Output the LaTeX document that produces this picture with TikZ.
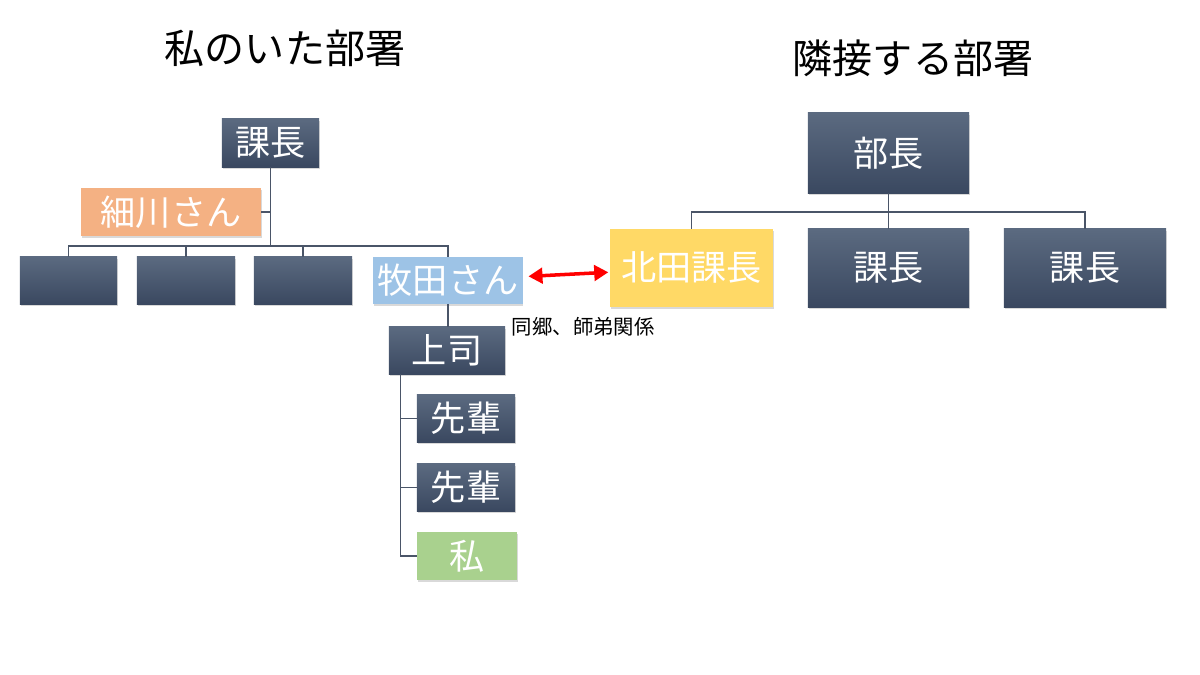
\documentclass[tikz,border=0pt]{standalone}
\usepackage{fontspec}
\setmainfont{Noto Sans CJK JP}
\usepackage{xcolor}
\usepackage{tikz}
\usetikzlibrary{calc,shadows,arrows.meta}

\definecolor{navytop}{HTML}{5B6A80}
\definecolor{navybot}{HTML}{3A4860}
\definecolor{linegray}{HTML}{4A5568}
\definecolor{peach}{HTML}{F4B183}
\definecolor{skyblue}{HTML}{9DC3E6}
\definecolor{mustard}{HTML}{FFD966}
\definecolor{leaf}{HTML}{A9D18E}

\tikzset{
	orgbox/.style={rectangle, inner sep=0pt, text=white, font=\fontsize{25}{28}\selectfont,
		drop shadow={shadow xshift=0.6pt, shadow yshift=-1.4pt, opacity=0.3}},
	navybox/.style={orgbox, top color=navytop, bottom color=navybot},
	conn/.style={draw=linegray, line width=0.8pt},
	rel/.style={draw=red, line width=2.5pt, {Triangle[length=10pt,width=11pt]}-{Triangle[length=10pt,width=11pt]}}
}

\begin{document}
\begin{tikzpicture}[x=0.025cm, y=-0.025cm]
			\useasboundingbox (0,0) rectangle (1200,675);
			\node[font=\fontsize{28.5}{32}\selectfont] (titleL) at (285,48) {私のいた部署};
			\node[font=\fontsize{28.5}{32}\selectfont] (titleR) at (913,58) {隣接する部署};

			\node[navybox, minimum width=2.425cm, minimum height=1.2cm] (kacho) at (270.5,143) {課長};
			\node[orgbox, fill=peach, minimum width=4.5cm, minimum height=1.2cm] (hosokawa) at (171,212) {細川さん};
			\node[navybox, minimum width=2.425cm, minimum height=1.175cm] (blankA) at (68.5,280.5) {};
			\node[navybox, minimum width=2.45cm, minimum height=1.175cm] (blankB) at (186,280.5) {};
			\node[navybox, minimum width=2.45cm, minimum height=1.175cm] (blankC) at (303,280.5) {};
			\node[orgbox, fill=skyblue, minimum width=3.725cm, minimum height=1.175cm] (makita) at (448,280.5) {牧田さん};
			\node[navybox, minimum width=2.9cm, minimum height=1.175cm] (joshi) at (447,350.5) {上司};
			\node[navybox, minimum width=2.45cm, minimum height=1.175cm] (senpaiA) at (466,418.5) {先輩};
			\node[navybox, minimum width=2.45cm, minimum height=1.175cm] (senpaiB) at (466,487.5) {先輩};
			\node[orgbox, fill=leaf, minimum width=2.5cm, minimum height=1.2cm] (watashi) at (467,556) {私};

			\node[navybox, minimum width=4.025cm, minimum height=2cm] (bucho) at (888.5,153) {部長};
			\node[orgbox, fill=mustard, minimum width=4.075cm, minimum height=1.95cm] (kitada) at (691.5,268) {北田課長};
			\node[navybox, minimum width=4.025cm, minimum height=1.95cm] (kachoB) at (888.5,268) {課長};
			\node[navybox, minimum width=4.05cm, minimum height=1.95cm] (kachoC) at (1085,268) {課長};

			\coordinate (busL) at (0,246);
			\draw[conn] (kacho.south) -- (kacho.south |- busL);
			\draw[conn] (kacho.south) |- (hosokawa.east);
			\foreach \n in {blankA,blankB,blankC,makita}
				\draw[conn] (kacho.south |- busL) -| (\n.north);
			\draw[conn] (makita.south) -- (makita.south |- joshi.north);
			\coordinate (spine) at ($(joshi.south west)+(12,0)$);
			\foreach \n in {senpaiA,senpaiB,watashi}
				\draw[conn] (spine) |- (\n.west);

			\coordinate (busR) at (0,212);
			\draw[conn] (bucho.south) -- (bucho.south |- busR);
			\foreach \n in {kitada,kachoB,kachoC}
				\draw[conn] (bucho.south |- busR) -| (\n.north);

			\draw[rel, shorten <=4pt, shorten >=1pt] (makita) -- (kitada);
			\node[anchor=west, font=\fontsize{14.5}{16}\selectfont] (bond) at (507,327) {同郷、師弟関係};
		\end{tikzpicture}
\end{document}
